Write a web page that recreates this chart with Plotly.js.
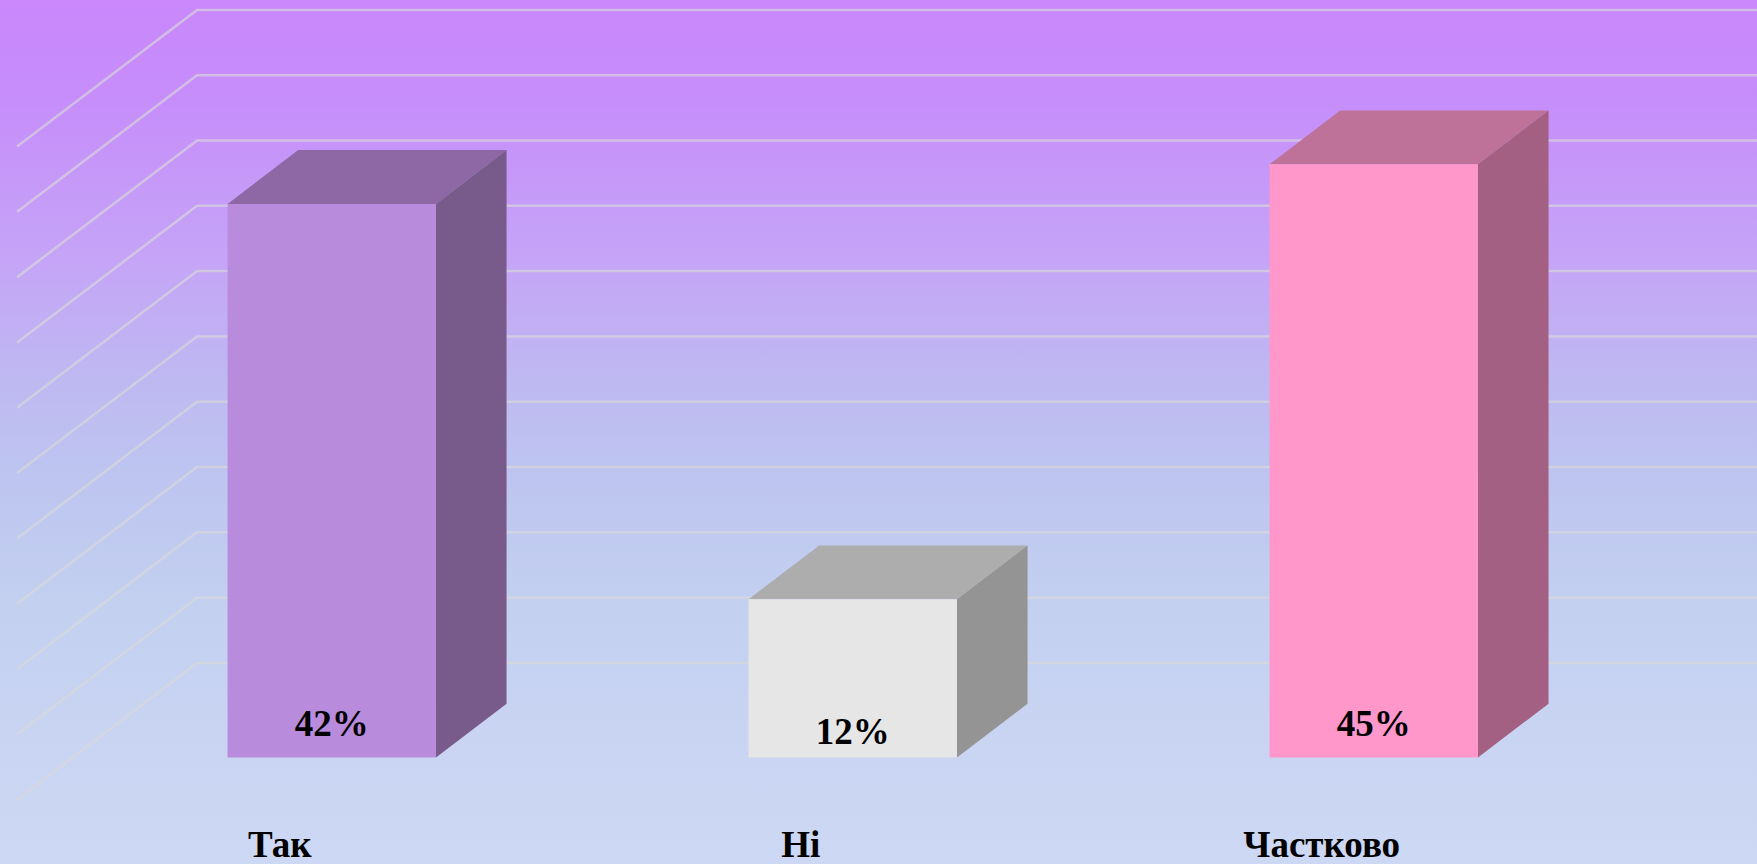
<!DOCTYPE html>
<html>
<head>
<meta charset="utf-8">
<script src="https://cdn.plot.ly/plotly-3.0.1.min.js"></script>
<style>
html,body{margin:0;padding:0;width:1757px;height:864px;overflow:hidden;}
body{background:linear-gradient(to bottom,#C987FB 0%,#C68EFA 12%,#C5A4F7 30%,#BFB6F2 42%,#BDC4F0 54%,#C3D0F0 70%,#C9D4F2 85%,#CDD8F4 100%);}
#chart{width:1757px;height:864px;}
</style>
</head>
<body>
<div id="chart"></div>
<script>
const categories = ["Так", "Ні", "Частково"];
const values = [42, 12, 45];
const labelLevels = [2.3, 1.7, 2.3];
const gridValues = [0, 5, 10, 15, 20, 25, 30, 35, 40, 45, 50];
const frontColors = ["#B98BDC", "#E6E6E6", "#FF97CB"];
const sideColors = ["#785A8B", "#949494", "#A36082"];
const topColors = ["#8E68A4", "#ADADAD", "#BF7299"];

const W = 1757, H = 864, axisPx = 819;
const xLo = -0.6368, xHi = 2.7356, yLo = -4.67, yHi = 57.47;
const halfBar = 0.2, depthX = 0.1355, depthY = 4.08;
const wallLeftX = -0.604, wallCornerX = -0.2586, wallLift = 7.17, wallDrop = -3.2, wallScale = 0.991;

const traces = [];
function poly(xs, ys, color) {
  traces.push({type:"scatter", mode:"lines", x:xs.concat(xs[0]), y:ys.concat(ys[0]), fill:"toself",
    fillcolor:color, line:{width:0, color:color}, hoverinfo:"skip", showlegend:false});
}
gridValues.forEach(v => {
  const g = v * wallScale;
  traces.push({type:"scatter", mode:"lines", x:[wallLeftX, wallCornerX, xHi], y:[g + wallDrop, g + wallLift, g + wallLift],
    line:{color:"rgba(217,217,217,0.65)", width:2.5}, hoverinfo:"skip", showlegend:false});
});
values.forEach((v, i) => {
  const l = i - halfBar, r = i + halfBar;
  poly([l, r, r + depthX, l + depthX], [v, v, v + depthY, v + depthY], topColors[i]);
  poly([r, r + depthX, r + depthX, r], [0, depthY, v + depthY, v], sideColors[i]);
  poly([l, r, r, l], [0, 0, v, v], frontColors[i]);
});
traces.push({type:"scatter", mode:"text", x:categories.map((c, i) => i), y:labelLevels,
  text:values.map(v => v + "%"), textposition:"middle center",
  textfont:{family:"Liberation Serif", size:37, color:"#000", weight:"bold"}, hoverinfo:"skip", showlegend:false});

const layout = {
  width:W, height:H, margin:{l:0, r:0, t:0, b:H - axisPx},
  paper_bgcolor:"rgba(0,0,0,0)", plot_bgcolor:"rgba(0,0,0,0)", showlegend:false,
  xaxis:{range:[xLo, xHi], showgrid:false, zeroline:false, showline:false, ticks:"",
    tickmode:"array", tickvals:categories.map((c, i) => i - 0.1), ticktext:categories, tickangle:0,
    tickfont:{family:"Liberation Serif", size:37, color:"#000", weight:"bold"}},
  yaxis:{range:[yLo, yHi], showgrid:false, zeroline:false, showline:false, showticklabels:false, ticks:""}
};
Plotly.newPlot("chart", traces, layout, {displayModeBar:false, staticPlot:true});
</script>
</body>
</html>
